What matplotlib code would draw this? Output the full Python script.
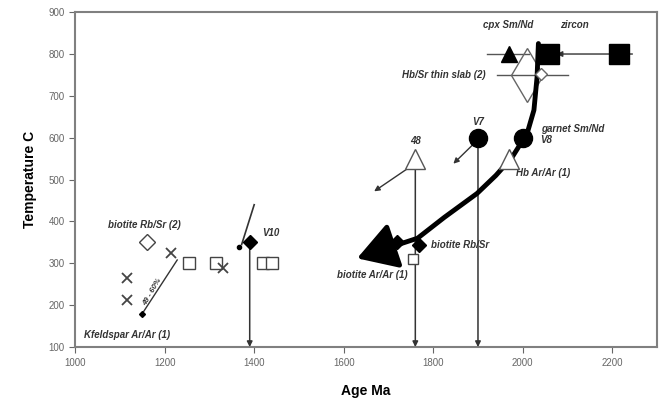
import matplotlib
matplotlib.use('Agg')
import matplotlib.pyplot as pyplot

pyplot.rcParams['font.family'] = ['Liberation Sans', 'DejaVu Sans']

# cooling path (thick curved arrow)
curve_age = [2035, 2032, 2025, 2010, 1976, 1940, 1898, 1825, 1765, 1705]
curve_temp = [825, 745, 666, 611, 553, 510, 467, 410, 360, 339]
curve_tip = (1630, 312)

# open squares, crosses, diamonds
sq_age = [1255, 1315, 1420, 1440]
sq_temp = [300, 300, 300, 300]
x_age = [1115, 1115, 1215, 1330]
x_temp = [265, 212, 325, 290]
open_dia = (1160, 350)
filled_dia_age = [1390, 1720, 1768]
filled_dia_temp = [350, 352, 345]

# open triangles, filled circles
tri_age = [1760, 1970]
tri_temp = [550, 550]
circ_age = [1900, 2000]
circ_temp = [600, 600]

# top row
cpx = (1970, 800)
cpx_err = (1920, 2015)
zircon_age = [2058, 2215]
zircon_temp = [800, 800]
hb_slab = (2010, 750)
hb_slab_err = (1942, 2100)

# vertical drop lines
drop_age = [1390, 1760, 1900]
drop_top = [350, 550, 600]

xticks = [1000, 1200, 1400, 1600, 1800, 2000, 2200]
yticks = [100, 200, 300, 400, 500, 600, 700, 800, 900]

fig = pyplot.figure(figsize=(6.65, 4.05), dpi=100)
ax = fig.add_axes([0.113, 0.143, 0.875, 0.827])
ax.set_xlim(1000, 2300)
ax.set_ylim(100, 900)
ax.set_xticks(xticks)
ax.set_yticks(yticks)
ax.tick_params(labelsize=7, colors='#666666', direction='out', length=4)
for s in ax.spines.values():
    s.set_color('#808080')
    s.set_linewidth(1.5)
ax.set_xlabel('Age Ma', fontsize=10, fontweight='bold', labelpad=12)
ax.set_ylabel('Temperature C', fontsize=10, fontweight='bold', labelpad=8)

# drop lines to the age axis
for a, t in zip(drop_age, drop_top):
    ax.annotate('', xy=(a, 100), xytext=(a, t),
                arrowprops=dict(arrowstyle='-|>', color='#333333', lw=1.1,
                                mutation_scale=8, shrinkA=0, shrinkB=0))

# thick cooling path
ax.plot(curve_age, curve_temp, color='black', lw=3.5, solid_capstyle='round', zorder=4)
ax.annotate('', xy=curve_tip, xytext=(curve_age[-1], curve_temp[-1]),
            arrowprops=dict(arrowstyle='-|>,head_length=1.0,head_width=0.6',
                            color='black', lw=3.5, mutation_scale=24,
                            shrinkA=0, shrinkB=0), zorder=5)

ax.plot(sq_age, sq_temp, 's', ms=9, mfc='white', mec='#444444', mew=1, zorder=3)
ax.plot([1755], [310], 's', ms=7, mfc='white', mec='#444444', mew=1, zorder=3)
ax.plot(x_age, x_temp, 'x', ms=7, color='#444444', mew=1.3, zorder=3)
ax.plot([open_dia[0]], [open_dia[1]], 'D', ms=8, mfc='white', mec='#444444', mew=1)
ax.plot(filled_dia_age, filled_dia_temp, 'D', ms=7, color='black', zorder=6)

ax.plot(tri_age, tri_temp, '^', ms=14, mfc='white', mec='#555555', mew=1, zorder=6)
ax.plot(circ_age, circ_temp, 'o', ms=13, color='black', zorder=6)

# small arrows
ax.annotate('', xy=(1668, 472), xytext=(1745, 528),
            arrowprops=dict(arrowstyle='-|>', color='#333333', lw=1, mutation_scale=8,
                            shrinkA=0, shrinkB=0))
ax.annotate('', xy=(1845, 538), xytext=(1890, 585),
            arrowprops=dict(arrowstyle='-|>', color='#333333', lw=1, mutation_scale=8,
                            shrinkA=0, shrinkB=0))
ax.plot([1372, 1400], [345, 440], color='#333333', lw=1.2)
ax.plot([1367], [340], 'o', ms=3, color='black')
# K-feldspar step line
ax.plot([1150, 1228], [180, 308], color='#333333', lw=1)
ax.plot([1150], [180], 'D', ms=3, color='black')
ax.text(1172, 232, '49 - 60%', fontsize=5.5, fontstyle='italic', fontweight='bold',
        rotation=60, ha='center', va='center', color='#333333')

# top row: cpx and zircon
ax.plot(cpx_err, [cpx[1], cpx[1]], color='#555555', lw=1)
ax.plot([cpx[0]], [cpx[1]], '^', ms=11, color='black', zorder=6)
ax.annotate('', xy=(zircon_age[0] + 18, 800), xytext=(2245, 800),
            arrowprops=dict(arrowstyle='-|>', color='#333333', lw=1, mutation_scale=8,
                            shrinkA=0, shrinkB=0))
ax.plot(zircon_age, zircon_temp, 's', ms=15, color='black', zorder=6)
ax.plot(hb_slab_err, [hb_slab[1], hb_slab[1]], color='#555555', lw=1)
ax.plot([hb_slab[0]], [hb_slab[1]], 'd', ms=27, mfc='none', mec='#666666', mew=1, zorder=3)
ax.plot([2040], [752], 'D', ms=6, mfc='white', mec='#666666', mew=1, zorder=5)

lab = dict(fontsize=7, fontstyle='italic', fontweight='bold', color='#333333')
ax.text(1968, 862, 'cpx Sm/Nd', ha='center', **lab)
ax.text(2115, 862, 'zircon', ha='center', **lab)
ax.text(1918, 750, 'Hb/Sr thin slab (2)', ha='right', va='center', **lab)
ax.text(2040, 620, 'garnet Sm/Nd', ha='left', va='center', **lab)
ax.text(2040, 595, 'V8', ha='left', va='center', **lab)
ax.text(1985, 515, 'Hb Ar/Ar (1)', ha='left', va='center', **lab)
ax.text(1900, 638, 'V7', ha='center', va='center', **lab)
ax.text(1760, 592, '48', ha='center', va='center', **lab)
ax.text(1795, 345, 'biotite Rb/Sr', ha='left', va='center', **lab)
ax.text(1665, 272, 'biotite Ar/Ar (1)', ha='center', va='center', **lab)
ax.text(1418, 372, 'V10', ha='left', va='center', **lab)
ax.text(1073, 392, 'biotite Rb/Sr (2)', ha='left', va='center', **lab)
ax.text(1020, 128, 'Kfeldspar Ar/Ar (1)', ha='left', va='center', **lab)

fig.savefig('out.png', dpi=100)
